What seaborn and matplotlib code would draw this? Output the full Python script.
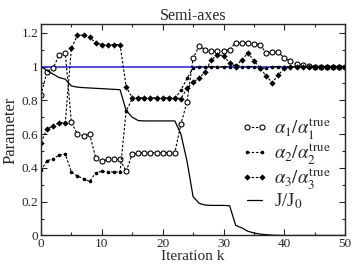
import numpy as np
import pandas as pd
import matplotlib
matplotlib.use("Agg")
import matplotlib.pyplot as plt
import seaborn as sns
from matplotlib.ticker import MultipleLocator, FixedLocator

k = list(range(51))

alpha1 = [0.83, 0.97, 0.99, 1.07, 1.08, 0.67, 0.60, 0.59, 0.60, 0.46,
          0.44, 0.45, 0.45, 0.45, 0.38, 0.48, 0.49, 0.49, 0.49, 0.49,
          0.49, 0.49, 0.49, 0.66, 0.79, 1.05, 1.12, 1.10, 1.09, 1.09,
          1.09, 1.10, 1.14, 1.14, 1.14, 1.135, 1.13, 1.08, 1.085, 1.085,
          1.05, 1.03, 1.015, 1.01, 1.005, 1.0, 1.0, 1.0, 1.0, 1.0, 1.0]

alpha2 = [0.385, 0.443, 0.453, 0.477, 0.482, 0.375, 0.352, 0.336, 0.32, 0.371,
          0.38, 0.376, 0.376, 0.376, 0.736, 0.81, 0.81, 0.81, 0.81, 0.81,
          0.81, 0.81, 0.81, 0.86, 0.93, 0.99, 1.0, 1.0, 1.0, 1.0,
          1.0, 1.0, 1.01, 1.0, 1.0, 1.0, 0.985, 0.99, 1.0, 1.0,
          1.0, 1.0, 1.0, 1.0, 1.0, 1.0, 1.0, 1.0, 1.0, 1.0, 1.0]

alpha3 = [0.55, 0.63, 0.648, 0.668, 0.668, 1.108, 1.186, 1.186, 1.172, 1.14,
          1.13, 1.13, 1.13, 1.13, 0.88, 0.815, 0.815, 0.815, 0.815, 0.815,
          0.815, 0.815, 0.815, 0.81, 0.87, 0.91, 0.93, 0.97, 1.04, 1.07,
          1.065, 1.02, 1.0, 1.04, 1.08, 1.035, 0.99, 0.945, 0.905, 0.95,
          0.99, 1.0, 1.0, 1.0, 1.0, 1.0, 1.0, 1.0, 1.0, 1.0, 1.0]

J = [1.0, 0.976, 0.955, 0.935, 0.925, 0.885, 0.878, 0.875, 0.873, 0.871,
     0.869, 0.867, 0.865, 0.863, 0.74, 0.70, 0.68, 0.678, 0.678, 0.678,
     0.678, 0.678, 0.678, 0.60, 0.44, 0.23, 0.19, 0.18, 0.178, 0.178,
     0.178, 0.176, 0.06, 0.045, 0.025, 0.015, 0.008, 0.005, 0.002, 0.001,
     0.0, 0.0, 0.0, 0.0, 0.0, 0.0, 0.0, 0.0, 0.0, 0.0, 0.0]

labels = [r'$\alpha_1/\alpha_1^{\rm true}$', r'$\alpha_2/\alpha_2^{\rm true}$',
          r'$\alpha_3/\alpha_3^{\rm true}$', r'J/J$_0$']

sns.set_style("ticks")
plt.rcParams['font.family'] = ['Liberation Serif', 'DejaVu Serif']
plt.rcParams['mathtext.fontset'] = 'stix'

fig = plt.figure(figsize=(3.53, 2.64), dpi=100)
ax = fig.add_axes([0.116, 0.108, 0.862, 0.800])

ax.axhline(1.0, color='#1a1aff', lw=1.1, zorder=1)

dash = (2.2, 1.6)
sns.lineplot(x=k, y=alpha1, ax=ax, color='black', lw=0.8, marker='o',
             markersize=3.6, markerfacecolor='white', markeredgecolor='black',
             markeredgewidth=0.8, linestyle=(0, dash), label=labels[0])
sns.lineplot(x=k, y=alpha2, ax=ax, color='black', lw=0.8, marker='o',
             markersize=2.6, markeredgewidth=0, linestyle=(0, dash), label=labels[1])
sns.lineplot(x=k, y=alpha3, ax=ax, color='black', lw=0.8, marker='D',
             markersize=3.2, markeredgewidth=0, linestyle=(0, dash), label=labels[2])
sns.lineplot(x=k, y=J, ax=ax, color='black', lw=0.9, label=labels[3])

ax.set_xlim(0, 50)
ax.set_ylim(0, 1.25)
ax.xaxis.set_major_locator(MultipleLocator(10))
ax.xaxis.set_minor_locator(MultipleLocator(5))
ax.yaxis.set_major_locator(FixedLocator([0, 0.2, 0.4, 0.6, 0.8, 1.0, 1.2]))
ax.yaxis.set_minor_locator(MultipleLocator(0.1))
ax.set_yticklabels(['0', '0.2', '0.4', '0.6', '0.8', '1', '1.2'])
ax.tick_params(which='both', direction='in', top=True, right=True, labelsize=9.5,
               width=0.8, pad=2)
ax.tick_params(axis='x', pad=1.5)
ax.tick_params(which='major', length=4)
ax.tick_params(which='minor', length=2.5)
for s in ax.spines.values():
    s.set_linewidth(1.0)

ax.set_xlabel('Iteration k', fontsize=11, labelpad=0)
ax.set_ylabel('Parameter', fontsize=12, labelpad=2)
ax.set_title('Semi-axes', fontsize=11.5, pad=3)

leg = ax.legend(loc='upper left', bbox_to_anchor=(0.66, 0.565), frameon=False,
                fontsize=13.5, handlelength=1.4, numpoints=2, labelspacing=0.0,
                handletextpad=0.3, borderaxespad=0.0, borderpad=0.0)

fig.savefig('out.png', dpi=100)
